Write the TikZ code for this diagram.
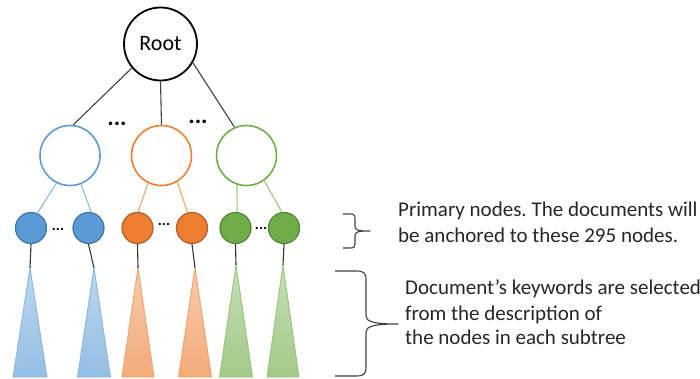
\documentclass[tikz,border=0pt]{standalone}
\usepackage{fontspec}
\setmainfont{Carlito}
\frenchspacing
\definecolor{cblue}{HTML}{5B9BD5}
\definecolor{corange}{HTML}{ED7D31}
\definecolor{cgreen}{HTML}{70AD47}
\definecolor{linkgray}{HTML}{404040}
\begin{document}
\begin{tikzpicture}[x=1pt,y=-1pt,
  rootnode/.style={circle,draw=black,line width=1.8pt,minimum size=73pt,inner sep=0pt,
    font=\fontsize{22}{26}\selectfont},
  midnode/.style={circle,draw=#1,line width=1.6pt,minimum size=60pt,inner sep=0pt},
  leafnode/.style={circle,fill=#1,draw=#1!75!black,line width=1.2pt,minimum size=31pt,inner sep=0pt},
  toplink/.style={draw=linkgray,line width=1.1pt},
  sublink/.style={draw=#1!70!white,line width=1.1pt},
  stem/.style={draw=black!80,line width=1.1pt},
  bigdots/.style={inner sep=0pt,anchor=base,font=\fontsize{24}{28}\selectfont\bfseries},
  smalldots/.style={inner sep=0pt,anchor=base,font=\fontsize{15}{18}\selectfont\bfseries},
  label/.style={inner sep=0pt,anchor=base west,font=\fontsize{21}{25}\selectfont,text=black!85},
  bracepath/.style={draw=linkgray,line width=1.1pt,line join=round},
  subtree/.style={top color=#1!40!white,bottom color=#1!65!white,draw=#1!72!white,line width=0.9pt}
]
\useasboundingbox (0,0) rectangle (700,379);

% root and the three second-level nodes
\node[rootnode] (root) at (160.5,44) {Root};
\node[midnode=cblue]   (mb) at (70,155.5) {};
\node[midnode=corange] (mo) at (161.5,155.5) {};
\node[midnode=cgreen]  (mg) at (246.5,155.5) {};

\draw[toplink] (root.-140) -- (mb.84);
\draw[toplink] (root.-90) -- (mo.90);
\draw[toplink] (root.-30) -- (mg.113);

\node[bigdots] (d1) at (117,126) {...};
\node[bigdots] (d2) at (198,124) {...};

% primary nodes
\node[leafnode=cblue]   (b1) at (31,228) {};
\node[leafnode=cblue]   (b2) at (88.5,228) {};
\node[leafnode=corange] (o1) at (137.5,228) {};
\node[leafnode=corange] (o2) at (192,228) {};
\node[leafnode=cgreen]  (g1) at (235.5,228) {};
\node[leafnode=cgreen]  (g2) at (284,228) {};

\draw[sublink=cblue]   (mb.-116) -- (b1.67);
\draw[sublink=cblue]   (mb.-69)  -- (b2.80);
\draw[sublink=corange] (mo.-116) -- (o1.88);
\draw[sublink=corange] (mo.-59)  -- (o2.106);
\draw[sublink=cgreen]  (mg.-108) -- (g1.84);
\draw[sublink=cgreen]  (mg.-55)  -- (g2.98);

\node[smalldots] (s1) at (58,230.5) {...};
\node[smalldots] (s2) at (164,225.5) {...};
\node[smalldots] (s3) at (261,229.5) {...};

% subtrees below each primary node: apex name / apex x / apex y / half base / colour
\foreach \n/\ax/\ay/\hw/\c in {tb1/30/268/17/cblue, tb2/94/268/16.5/cblue,
                              to1/138/268/16/corange, to2/195/268/16.5/corange,
                              tg1/236/265/16.5/cgreen, tg2/283/265/16/cgreen} {
  \coordinate (\n) at (\ax,\ay);
  \shade[subtree=\c] (\n) -- ({\ax-\hw},377) -- ({\ax+\hw},377) -- cycle;
}

\draw[stem] (b1.south) -- (tb1);
\draw[stem] (b2.south) -- (tb2);
\draw[stem] (o1.south) -- (to1);
\draw[stem] (o2.south) -- (to2);
\draw[stem] (g1.south) -- (tg1);
\draw[stem] (g2.south) -- (tg2);

% braces
\coordinate (ptip) at (370,231);
\draw[bracepath] (343,214) -- (350,214) .. controls (354,214) and (355,215) .. (355,219)
  -- (355,226) .. controls (355,230) and (357,231) .. (ptip)
  .. controls (357,231) and (355,232) .. (355,236) -- (355,244)
  .. controls (355,247) and (354,248) .. (350,248) -- (343,248);
\coordinate (ktip) at (398,324);
\draw[bracepath] (335,271) -- (356,271) .. controls (364,271) and (366,273) .. (366,280)
  -- (366,315) .. controls (366,321) and (370,324) .. (ktip)
  .. controls (370,324) and (366,327) .. (366,333) -- (366,367)
  .. controls (366,374) and (364,376) .. (356,376) -- (335,376);

% annotations
\node[label] (p1) at (398,216) {Primary nodes. The documents will};
\node[label] (p2) at (398,242) {be anchored to these 295 nodes.};
\node[label] (k1) at (405,294) {Document’s keywords are selected};
\node[label] (k2) at (405,320) {from the description of};
\node[label] (k3) at (405,344) {the nodes in each subtree};
\end{tikzpicture}
\end{document}
